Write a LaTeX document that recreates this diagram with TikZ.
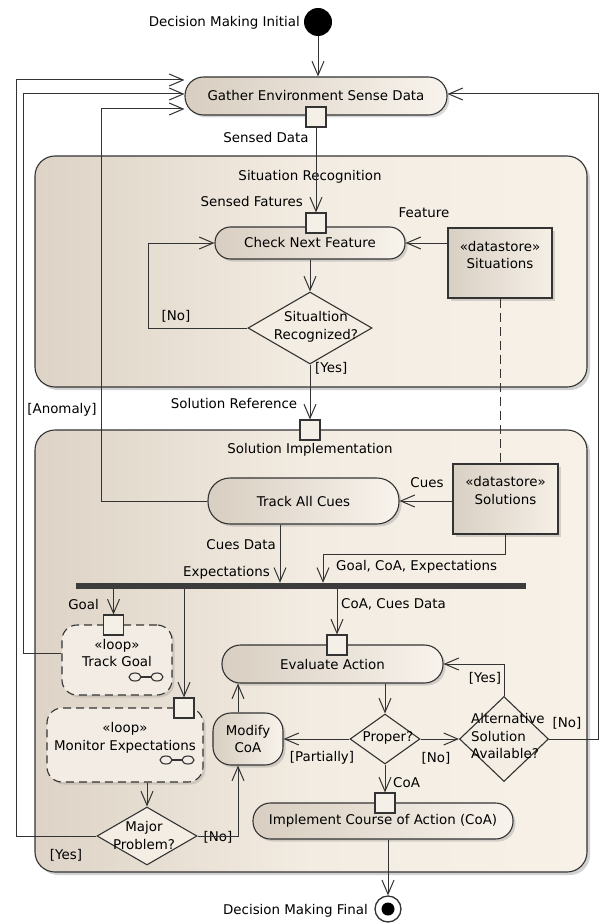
\documentclass[tikz,border=0pt]{standalone}
\usepackage{fontspec}
\setmainfont{DejaVu Sans}
\usetikzlibrary{arrows.meta,shapes.geometric,shadows,calc}
\definecolor{ink}{HTML}{333333}
\definecolor{contL}{HTML}{DDD3C6}
\definecolor{contM}{HTML}{F3ECE2}
\definecolor{contR}{HTML}{F7F1E8}
\definecolor{actL}{HTML}{D8CEC1}
\definecolor{actR}{HTML}{F8F3EC}
\definecolor{dsL}{HTML}{D9D0C4}
\definecolor{dsR}{HTML}{F5EFE6}
\definecolor{loopC}{HTML}{F2ECE4}
\definecolor{diaC}{HTML}{F3EDE3}
\definecolor{pinC}{HTML}{F4EFE7}
\definecolor{barC}{HTML}{3C3C3C}
\tikzset{
  base/.style={draw=ink, line width=1.1pt, inner sep=0pt},
  cont/.style={base, rounded corners=20pt, left color=contL, right color=contR, middle color=contM,
    drop shadow={opacity=0.35, shadow xshift=3pt, shadow yshift=-3pt}},
  act/.style={base, rounded corners=#1, left color=actL, right color=actR,
    drop shadow={opacity=0.3, shadow xshift=2.5pt, shadow yshift=-2.5pt}},
  act/.default=16pt,
  dstore/.style={base, left color=dsL, right color=dsR,
    drop shadow={opacity=0.3, shadow xshift=2.5pt, shadow yshift=-2.5pt}},
  loopbox/.style={base, dash pattern=on 8pt off 5pt, rounded corners=15pt, fill=loopC,
    drop shadow={opacity=0.25, shadow xshift=2.5pt, shadow yshift=-2.5pt}},
  pinbox/.style={base, fill=pinC, minimum width=20pt, minimum height=20pt},
  dia/.style={base, diamond, fill=diaC},
  lab/.style={inner sep=0pt},
  wire/.style={draw=ink, line width=1pt},
  arr/.style={draw=ink, line width=1pt, -{Straight Barb[length=14pt,width=12pt]}},
  dep/.style={draw=ink, line width=1pt, dash pattern=on 9pt off 5pt},
  glass/.style={draw=ink, line width=1.1pt}
}
\begin{document}
\begin{tikzpicture}[x=1pt,y=-1pt,font=\fontsize{13.4}{17.5}\selectfont]
\useasboundingbox[fill=white] (0,0) rectangle (601,923);

% containers
\node[cont, minimum width=552pt, minimum height=231pt] (sitrec) at (311,271.5) {};
\node[cont, minimum width=552pt, minimum height=442pt] (solimpl) at (311,651) {};
\node[lab] (sitrecT) at (310,177) {Situation Recognition};
\node[lab] (solimplT) at (310,450) {Solution Implementation};

% initial
\node[circle, fill=black, minimum size=28pt, inner sep=0pt] (init) at (318,22) {};
\node[lab, anchor=east] (initT) at (300,23) {Decision Making Initial};

% gather
\node[act=18.5pt, minimum width=262pt, minimum height=38pt] (gather) at (316,96) {Gather Environment Sense Data};
\node[pinbox] (gpin) at (316,117) {};
\node[lab] (sensedT) at (266,138) {Sensed Data};

% situation recognition
\node[lab, anchor=east] (featT) at (303,202) {Sensed Fatures};
\node[act=15.5pt, minimum width=190pt, minimum height=32pt] (check) at (310,243) {Check Next Feature};
\node[pinbox] (cpin) at (316,223) {};
\node[dstore, minimum width=104pt, minimum height=70pt] (sitds) at (500,263) {};
\node[lab, align=center] (sitdsT) at (500,255) {«datastore»\\Situations};
\node[lab] (featureT) at (424,213) {Feature};
\node[dia, minimum width=124pt, minimum height=72pt] (sitq) at (310,328) {};
\node[lab, align=center] (sitqT) at (316,327) {Situaltion\\Recognized?};
\node[lab] (noT1) at (176,316) {[No]};
\node[lab, anchor=west] (yesT1) at (315,368) {[Yes]};
\node[lab] (solrefT) at (234,404) {Solution Reference};
\node[lab] (anomT) at (62,410) {[Anomaly]};
\node[pinbox] (sipin) at (310,430) {};

% solution implementation
\node[act=22pt, minimum width=191pt, minimum height=46pt] (trackcues) at (303.5,501) {Track All Cues};
\node[dstore, minimum width=105pt, minimum height=70pt] (solds) at (505.5,499) {};
\node[lab, align=center] (soldsT) at (505.5,490.5) {«datastore»\\Solutions};
\node[lab] (cuesT) at (427,483) {Cues};
\node[lab, anchor=east] (cuesdataT) at (276,545) {Cues Data};
\node[lab, anchor=east] (expT) at (270,573) {Expectations};
\node[lab, anchor=west] (gceT) at (336,567) {Goal, CoA, Expectations};
\node[fill=barC, minimum width=450pt, minimum height=6pt, inner sep=0pt] (bar) at (301,586) {};
\node[lab, anchor=west] (ccdT) at (341,604) {CoA, Cues Data};
\node[lab, anchor=east] (goalT) at (99,604) {Goal};

\node[loopbox, minimum width=110pt, minimum height=70pt] (trackgoal) at (117,660) {};
\node[lab, align=center] (trackgoalT) at (117,653) {«loop»\\Track Goal};
\node[pinbox] (tgpin) at (113.5,625) {};
\draw[glass] (135,677) ellipse [x radius=6, y radius=4];
\draw[glass] (157,677) ellipse [x radius=6, y radius=4];
\draw[glass] (141,677) -- (151,677);

\node[loopbox, minimum width=156pt, minimum height=74pt] (monitor) at (125,745) {};
\node[lab, align=center] (monitorT) at (125,738) {«loop»\\Monitor Expectations};
\node[pinbox] (mepin) at (184,708) {};
\draw[glass] (166,760) ellipse [x radius=6, y radius=4];
\draw[glass] (188,760) ellipse [x radius=6, y radius=4];
\draw[glass] (172,760) -- (182,760);

\node[dia, minimum width=100pt, minimum height=58pt] (major) at (147,836) {};
\node[lab, align=center] (majorT) at (144,835.5) {Major\\Problem?};
\node[lab] (noT2) at (218,837) {[No]};
\node[lab] (yesT2) at (66,855) {[Yes]};

\node[act=18pt, minimum width=70pt, minimum height=52pt, align=center] (modify) at (248,739) {Modify\\CoA};
\node[act=18.5pt, minimum width=221pt, minimum height=38pt] (evaluate) at (332.5,664) {Evaluate Action};
\node[pinbox] (evpin) at (337,645) {};
\node[dia, minimum width=70pt, minimum height=50pt] (proper) at (385,739) {};
\node[lab] (properT) at (388,738) {Proper?};
\node[lab] (partT) at (322,758) {[Partially]};
\node[lab] (noT3) at (436,758) {[No]};
\node[dia, minimum width=89pt, minimum height=85pt] (alt) at (504,739) {};
\node[lab, align=left, anchor=west] (altT) at (471,736) {Alternative\\Solution\\Available?};
\node[lab] (noT4) at (567,723) {[No]};
\node[lab] (yesT4) at (485,678) {[Yes]};
\node[act=17.5pt, minimum width=260pt, minimum height=36pt] (implement) at (383,821) {Implement Course of Action (CoA)};
\node[pinbox] (impin) at (385,803) {};
\node[lab, anchor=west] (coaT) at (393,783) {CoA};

% final
\node[circle, draw=ink, line width=1.3pt, fill=white, minimum size=26pt, inner sep=0pt] (final) at (388,909) {};
\node[circle, fill=black, minimum size=13pt, inner sep=0pt] (finaldot) at (final) {};
\node[lab, anchor=east] (finalT) at (368,911) {Decision Making Final};

% connectors
\draw[arr] (init) -- (gather.north -| init);
\draw[arr] (gpin.south) -- (cpin.north);
\draw[arr] (sitds.west |- check.east) -- (check.east);
\draw[arr] (check.south) -- (sitq.north);
\draw[arr] (sitq.west) -- ++(-99,0) |- (check.west);
\draw[arr] (sitq.south) -- (sipin.north);
\draw[dep] (sitds.south) -- (sitds.south |- solds.north);
\draw[arr] (solds.west |- trackcues.east) -- (trackcues.east);
\draw[arr] (trackcues.west) -- ++(-106,0) |- ([yshift=-13pt]gather.west);
\coordinate (cd) at ([xshift=-23.5pt]trackcues.south);
\draw[arr] (cd) -- (cd |- bar.north);
\draw[arr] (solds.south) -- ++(0,20) -| ([xshift=22pt]bar.north);
\draw[arr] (tgpin.north |- bar.south) -- (tgpin.north);
\draw[arr] (mepin.north |- bar.south) -- (mepin.north);
\draw[arr] (evpin.north |- bar.south) -- (evpin.north);
\draw[arr] ([yshift=7pt]trackgoal.west) -- ++(-38,0) |- ([yshift=2pt]gather.west);
\draw[arr] (major.north |- monitor.south) -- (major.north);
\draw[arr] (major.west) -- ++(-80,0) |- ([yshift=16pt]gather.west);
\coordinate (mtop) at ([xshift=-10pt]modify.north);
\coordinate (mbot) at ([xshift=-10pt]modify.south);
\draw[arr] (major.east) -| (mbot);
\draw[arr] (mtop) -- (mtop |- evaluate.south);
\draw[arr] (proper.north |- evaluate.south) -- (proper.north);
\draw[arr] (proper.west) -- (modify.east);
\draw[arr] (proper.east) -- (alt.west);
\draw[arr] (proper.south) -- (impin.north);
\draw[arr] (alt.north) |- (evaluate.east);
\draw[arr] (alt.east) -- ++(49,0) |- ([yshift=2pt]gather.east);
\draw[arr] (final.north |- implement.south) -- (final.north);
\end{tikzpicture}
\end{document}
